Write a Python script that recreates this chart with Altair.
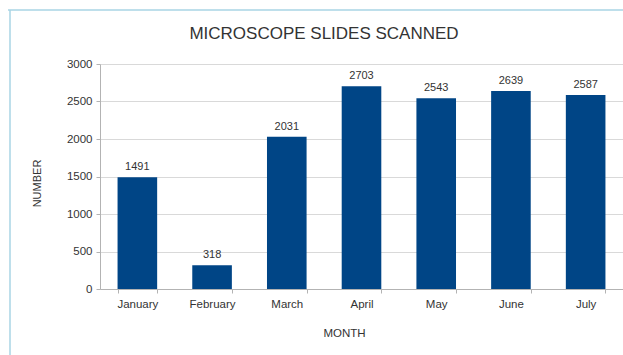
import altair as alt
import pandas as pd

months = ["January", "February", "March", "April", "May", "June", "July"]
values = [1491, 318, 2031, 2703, 2543, 2639, 2587]
y_ticks = [0, 500, 1000, 1500, 2000, 2500, 3000]

df = pd.DataFrame({"month": months, "value": values})

FONT = "Liberation Sans"
TXT = "#333333"

x_enc = alt.X(
    "month:N",
    sort=months,
    scale=alt.Scale(paddingInner=0.47, paddingOuter=0.235),
    axis=alt.Axis(
        title="MONTH",
        titleFont=FONT,
        titleFontSize=11.5,
        titleFontWeight="normal",
        titleColor=TXT,
        titleX=244,
        titleY=38,
        titleAnchor="start",
        titleAlign="center",
        labelFont=FONT,
        labelFontSize=11.5,
        labelColor=TXT,
        labelAngle=0,
        labelPadding=5,
        domainColor="#b3b3b3",
        tickColor="#b3b3b3",
        tickSize=4,
        tickBand="extent",
    ),
)
y_enc = alt.Y(
    "value:Q",
    scale=alt.Scale(domain=[0, 3000], nice=False),
    axis=alt.Axis(
        title="NUMBER",
        values=y_ticks,
        format="d",
        titleFont=FONT,
        titleFontSize=11,
        titleFontWeight="normal",
        titleColor=TXT,
        titleX=-63,
        titleY=119,
        titleAngle=270,
        titleAlign="center",
        titleBaseline="middle",
        labelFont=FONT,
        labelFontSize=11.5,
        labelColor=TXT,
        labelPadding=4,
        domainColor="#b3b3b3",
        tickColor="#b3b3b3",
        tickSize=4,
        gridColor="#d9d9d9",
    ),
)

bars = alt.Chart(df).mark_bar(color="#004586").encode(x=x_enc, y=y_enc)

labels = alt.Chart(df).mark_text(
    font=FONT, fontSize=11, color=TXT, baseline="bottom", dy=-5
).encode(x=x_enc, y=y_enc, text=alt.Text("value:Q"))

title = alt.Chart(pd.DataFrame({"t": ["MICROSCOPE SLIDES SCANNED"]})).mark_text(
    font=FONT, fontSize=17, color=TXT, align="center", baseline="middle"
).encode(x=alt.value(224), y=alt.value(-30), text="t:N")

border_top = alt.Chart(pd.DataFrame({"a": [0]})).mark_rule(
    color="#a8d4e4", strokeWidth=1.5
).encode(x=alt.value(-92), x2=alt.value(523), y=alt.value(-54))
border_left = alt.Chart(pd.DataFrame({"a": [0]})).mark_rule(
    color="#a8d4e4", strokeWidth=1.5
).encode(x=alt.value(-90), y=alt.value(-54), y2=alt.value(291))

chart = (
    alt.layer(bars, labels, title, border_top, border_left)
    .properties(
        width=523,
        height=225,
        autosize=alt.AutoSizeParams(type="none"),
        padding={"left": 100, "top": 64, "right": 0, "bottom": 66},
        background="white",
    )
    .configure_view(stroke=None)
)

chart.save("out.html", embed_options={"renderer": "svg", "actions": False})
